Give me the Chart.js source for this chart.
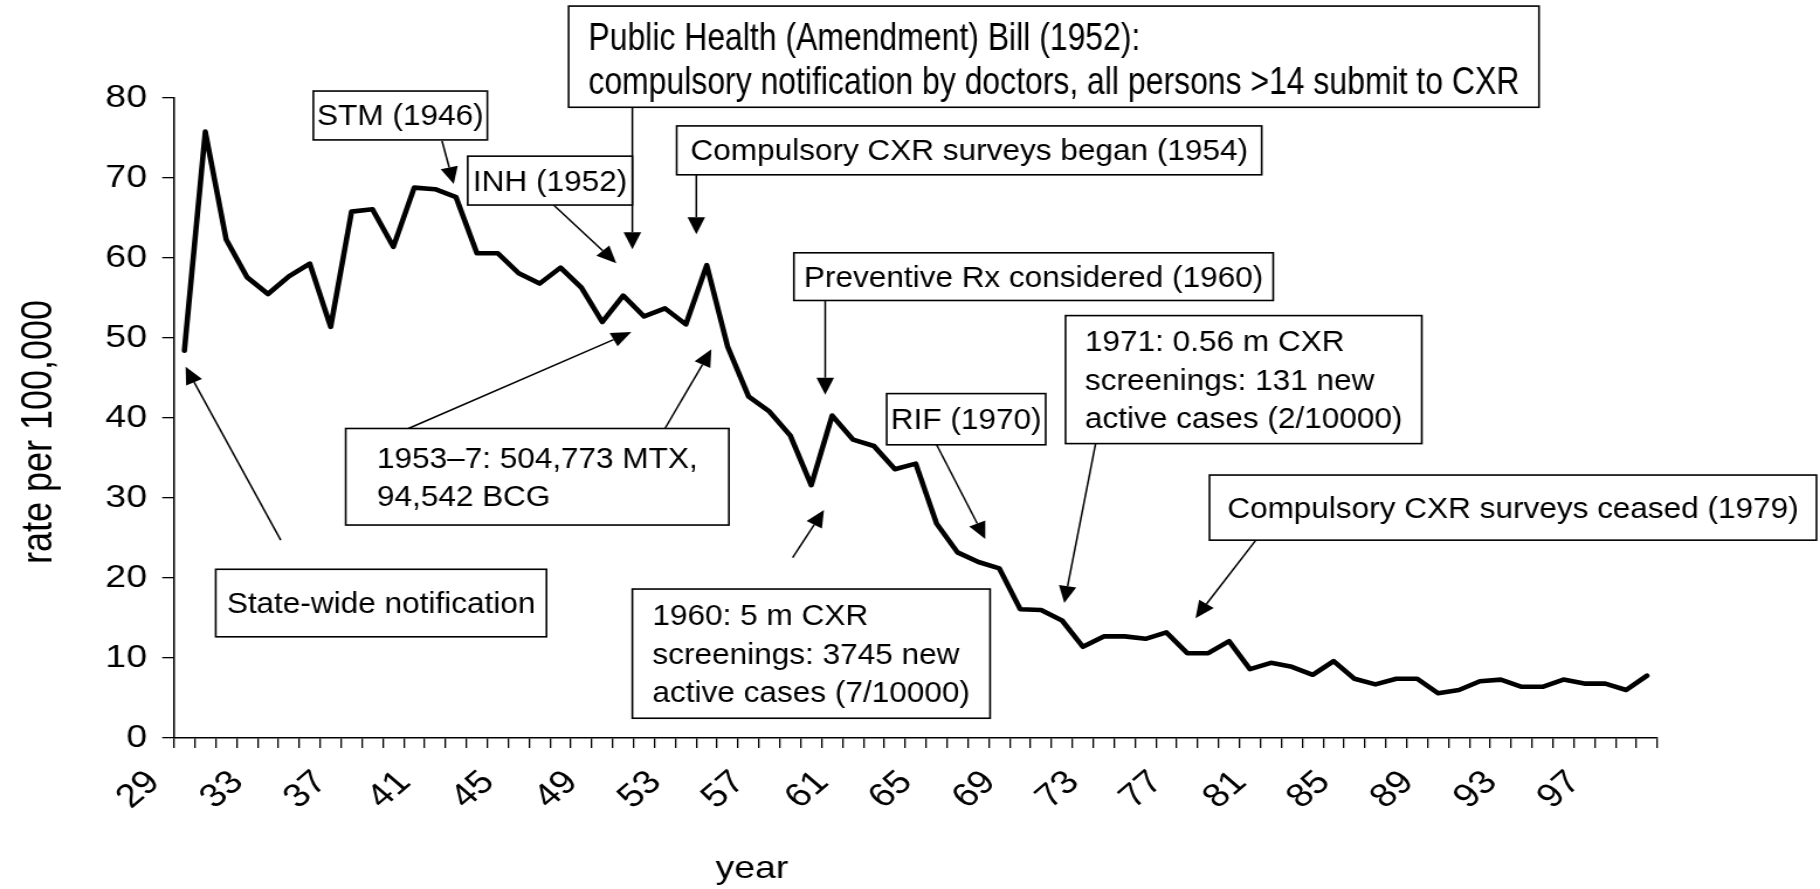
<!DOCTYPE html>
<html>
<head>
<meta charset="utf-8">
<script src="https://cdn.jsdelivr.net/npm/chart.js@4.4.1/dist/chart.umd.min.js"></script>
<style>
html,body{margin:0;padding:0;background:#fff;overflow:hidden;}
#wrap{position:absolute;left:0;top:0;width:1556px;height:889px;transform:scaleX(1.1697);transform-origin:0 0;}
canvas{display:block;}
</style>
</head>
<body>
<div id="wrap"><canvas id="c" width="1556" height="889"></canvas></div>
<script>
// ---- data ----
const years = [1929,1930,1931,1932,1933,1934,1935,1936,1937,1938,1939,1940,1941,1942,1943,1944,1945,1946,1947,1948,1949,
  1950,1951,1952,1953,1954,1955,1956,1957,1958,1959,1960,1961,1962,1963,1964,1965,1966,1967,1968,1969,
  1970,1971,1972,1973,1974,1975,1976,1977,1978,1979,1980,1981,1982,1983,1984,1985,1986,1987,1988,1989,
  1990,1991,1992,1993,1994,1995,1996,1997,1998,1999];
const rates = [48.4,75.8,62.3,57.6,55.5,57.7,59.3,51.4,65.8,66.1,61.4,68.8,68.6,67.6,60.6,60.6,58.1,56.8,58.8,56.3,52.0,
  55.3,52.7,53.7,51.7,59.1,48.9,42.7,40.8,37.8,31.6,40.3,37.3,36.5,33.6,34.3,26.8,23.2,22.0,21.2,16.1,
  16.0,14.7,11.4,12.7,12.7,12.4,13.2,10.6,10.6,12.1,8.6,9.4,8.9,7.9,9.6,7.4,6.7,7.4,7.4,5.6,
  6.0,7.1,7.3,6.4,6.4,7.3,6.8,6.8,6.0,7.8];
const tickLabels = ["29","33","37","41","45","49","53","57","61","65","69","73","77","81","85","89","93","97"];
const yTicks = [0,10,20,30,40,50,60,70,80];
const yTitle = "rate per 100,000";
const xTitle = "year";

// annotation texts
const noteTexts = [
  ["Public Health (Amendment) Bill (1952):", "compulsory notification by doctors, all persons >14 submit to CXR"],
  ["STM (1946)"],
  ["INH (1952)"],
  ["Compulsory CXR surveys began (1954)"],
  ["Preventive Rx considered (1960)"],
  ["1971: 0.56 m CXR", "screenings: 131 new", "active cases (2/10000)"],
  ["RIF (1970)"],
  ["Compulsory CXR surveys ceased (1979)"],
  ["1953\u20137: 504,773 MTX,", "94,542 BCG"],
  ["State-wide notification"],
  ["1960: 5 m CXR", "screenings: 3745 new", "active cases (7/10000)"]
];

// ---- layout (in axis units: category index, rate value) ----
const noteBoxes = [
  {l:18.39, r:64.83, t:91.49, b:78.84, size:39, sx:0.70, lh:44, dy:5},
  {l:6.17,  r:14.5,  t:80.87, b:74.76},
  {l:13.56, r:21.44, t:72.73, b:66.62},
  {l:23.56, r:51.56, t:76.51, b:70.40},
  {l:29.17, r:52.11, t:60.65, b:54.69},
  {l:42.17, r:59.22, t:52.8,  b:36.8},
  {l:33.61, r:41.22, t:43.05, b:36.65},
  {l:49.06, r:78.11, t:32.87, b:24.73},
  {l:7.72,  r:26.06, t:38.69, b:26.62},
  {l:1.5,   r:17.33, t:21.09, b:12.65},
  {l:21.44, r:38.56, t:18.62, b:2.47}
];
const arrows = [
  [12.33,74.62,12.89,69.24],
  [17.67,66.62,20.67,59.35],
  [21.44,78.84,21.44,61.09],
  [24.5,70.4,24.5,62.98],
  [10.72,38.69,21.39,50.76],
  [23.0,38.69,25.22,48.58],
  [4.61,24.73,0.06,46.4],
  [30.67,54.69,30.67,42.91],
  [36.0,36.65,38.33,24.87],
  [29.11,22.55,30.61,28.51],
  [43.61,36.8,42.11,16.87],
  [51.28,24.73,48.39,14.98]
];

const FONT = "'Liberation Sans', Arial, Helvetica, sans-serif";

const annotPlugin = {
  id: 'annot',
  afterDatasetsDraw(chart) {
    const ctx = chart.ctx;
    const xs = chart.scales.x, ys = chart.scales.y;
    const px = v => xs.getPixelForValue(v);
    const py = v => ys.getPixelForValue(v);
    ctx.save();
    ctx.strokeStyle = '#000';
    ctx.fillStyle = '#000';
    ctx.lineWidth = 1.5;
    arrows.forEach(a => {
      const x1 = px(a[0]), y1 = py(a[1]), x2 = px(a[2]), y2 = py(a[3]);
      const ang = Math.atan2(y2 - y1, x2 - x1);
      const hl = 17, hw = 7.5;
      const bx = x2 - hl * Math.cos(ang), by = y2 - hl * Math.sin(ang);
      ctx.beginPath();
      ctx.moveTo(x1, y1);
      ctx.lineTo(bx, by);
      ctx.stroke();
      ctx.beginPath();
      ctx.moveTo(x2, y2);
      ctx.lineTo(bx + hw * Math.sin(ang), by - hw * Math.cos(ang));
      ctx.lineTo(bx - hw * Math.sin(ang), by + hw * Math.cos(ang));
      ctx.closePath();
      ctx.fill();
    });
    noteBoxes.forEach((bx, i) => {
      const L = px(bx.l), R = px(bx.r), T = py(bx.t), B = py(bx.b);
      ctx.fillStyle = '#fff';
      ctx.fillRect(L, T, R - L, B - T);
      ctx.strokeStyle = '#000';
      ctx.lineWidth = 1.6;
      ctx.strokeRect(L, T, R - L, B - T);
      const size = bx.size || 29, sx = bx.sx || 0.93, lh = bx.lh || 38.5, dy = bx.dy || 2;
      ctx.font = size + 'px ' + FONT;
      ctx.fillStyle = '#000';
      ctx.textBaseline = 'middle';
      ctx.textAlign = 'left';
      const lines = noteTexts[i];
      const w = Math.max(...lines.map(s => ctx.measureText(s).width)) * sx;
      const left = (L + R) / 2 - w / 2;
      const cy = (T + B) / 2;
      lines.forEach((s, j) => {
        const yy = cy + (j - (lines.length - 1) / 2) * lh + dy;
        ctx.save();
        ctx.translate(left, yy);
        ctx.scale(sx, 1);
        ctx.fillText(s, 0, 0);
        ctx.restore();
      });
    });
    ctx.restore();
  },
  afterDraw(chart) {
    const ctx = chart.ctx;
    const xs = chart.scales.x, ys = chart.scales.y;
    ctx.save();
    ctx.fillStyle = '#000';
    ctx.font = '36px ' + FONT;
    ctx.textAlign = 'center';
    ctx.textBaseline = 'middle';
    ctx.translate(34, ys.getPixelForValue(38.25));
    ctx.rotate(-Math.PI / 2);
    ctx.fillText(yTitle, 0, 0);
    ctx.restore();
    ctx.save();
    ctx.fillStyle = '#000';
    ctx.font = '32px ' + FONT;
    ctx.textAlign = 'center';
    ctx.textBaseline = 'alphabetic';
    ctx.fillText(xTitle, xs.getPixelForValue(27.16), 878);
    ctx.restore();
  }
};

new Chart(document.getElementById('c'), {
  type: 'line',
  data: {
    labels: years.map(String),
    datasets: [{
      data: rates,
      borderColor: '#000',
      borderWidth: 4.6,
      pointRadius: 0,
      tension: 0,
      fill: false,
      borderJoinStyle: 'round',
      borderCapStyle: 'round'
    }]
  },
  options: {
    responsive: false,
    animation: false,
    devicePixelRatio: 1,
    layout: { padding: { left: 0, top: 98, right: 139, bottom: 0 } },
    plugins: { legend: { display: false }, tooltip: { enabled: false }, title: { display: false } },
    scales: {
      x: {
        type: 'category',
        offset: true,
        grid: { offset: true, drawOnChartArea: false, drawTicks: true, tickLength: 10, color: '#000', lineWidth: 1.3 },
        border: { display: true, color: '#000', width: 1.5 },
        ticks: {
          autoSkip: false, maxRotation: 45, minRotation: 45, labelOffset: -26, padding: 15,
          color: '#000', font: { family: FONT, size: 33 },
          callback: function(v, i) { const s = String(years[i]).slice(2); return tickLabels.includes(s) ? s : ''; }
        },
        afterFit(s) { s.height = 151; }
      },
      y: {
        min: 0, max: 80,
        afterBuildTicks(s) { s.ticks = yTicks.map(v => ({ value: v })); },
        ticks: { padding: 13, color: '#000', font: { family: FONT, size: 32 } },
        grid: { drawOnChartArea: false, drawTicks: true, tickLength: 10, color: '#000', lineWidth: 1.3 },
        border: { display: true, color: '#000', width: 1.5 },
        afterFit(s) { s.width = 148.7; }
      }
    }
  },
  plugins: [annotPlugin]
});
</script>
</body>
</html>
